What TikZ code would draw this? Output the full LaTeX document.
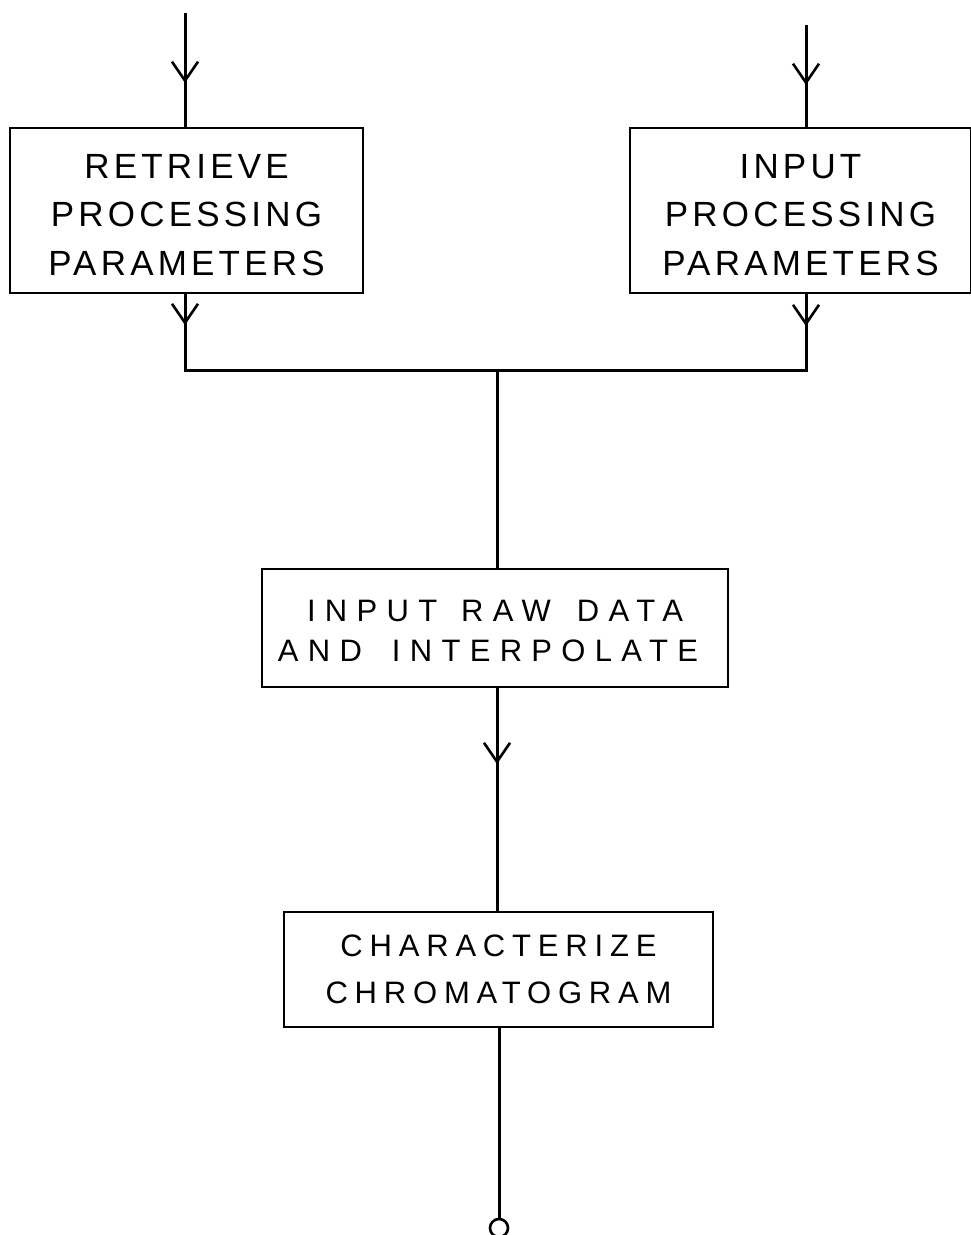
\documentclass[tikz,border=0pt]{standalone}
\usepackage{fontspec}
\usetikzlibrary{arrows.meta,decorations.markings}
\newfontfamily\toplbl[LetterSpace=12]{Liberation Sans}
\newfontfamily\midlbl[LetterSpace=30]{Liberation Sans}
\newfontfamily\lowlbl[LetterSpace=22]{Liberation Sans}
\tikzset{
  procbox/.style={draw, line width=2.2pt, inner sep=0pt, align=center},
  flow/.style={line width=3pt},
  vtip/.style={postaction={decorate}, decoration={markings,
     mark=at position #1 with {\arrow[line width=2.6pt]{Straight Barb[length=19pt,width=26pt]}}}}
}
\begin{document}
\begin{tikzpicture}[x=1pt,y=-1pt]
\useasboundingbox (0,0) rectangle (971,1235);
% boxes
\node[procbox, minimum width=353, minimum height=165,
      font=\toplbl\fontsize{35}{48.5}\selectfont] (boxL) at (186.5,210.5)
      {RETRIEVE\rule{0pt}{33pt}\\PROCESSING\\PARAMETERS};
\node[procbox, minimum width=341, minimum height=165,
      font=\toplbl\fontsize{35}{48.5}\selectfont] (boxR) at (800.5,210.5)
      {INPUT\rule{0pt}{33pt}\\PROCESSING\\PARAMETERS};
\node[procbox, minimum width=466, minimum height=118,
      font=\midlbl\fontsize{31}{40}\selectfont] (boxM) at (495,628)
      {INPUT\hspace{24pt}RAW\hspace{26pt}DATA\rule{0pt}{28pt}\\\hspace*{-14pt}AND\hspace{30pt}INTERPOLATE};
\node[procbox, minimum width=429, minimum height=115,
      font=\lowlbl\fontsize{31}{47}\selectfont] (boxB) at (498.5,969.5)
      {CHARACTERIZE\\CHROMATOGRAM};
% coordinates
\coordinate (inL) at (185,13);
\coordinate (inR) at (806,25);
\coordinate (cornL) at (185,370);
\coordinate (cornR) at (806,370);
\coordinate (join) at (497,370);
\node[circle, draw, line width=2.6pt, minimum size=18, inner sep=0pt] (endc) at (499,1228) {};
% connectors
\draw[flow, vtip=70pt] (inL) -- (boxL.north -| inL);
\draw[flow, vtip=60pt] (inR) -- (boxR.north -| inR);
\draw[flow, vtip=31pt] (boxL.south -| cornL) -- (cornL) -- (join);
\draw[flow, vtip=32pt] (boxR.south -| cornR) -- (cornR) -- (join);
\draw[flow] (join) -- (boxM.north -| join);
\draw[flow, vtip=76pt] (boxM.south -| join) -- (boxB.north -| join);
\draw[flow] (boxB.south -| endc) -- (endc.north);
\end{tikzpicture}
\end{document}
